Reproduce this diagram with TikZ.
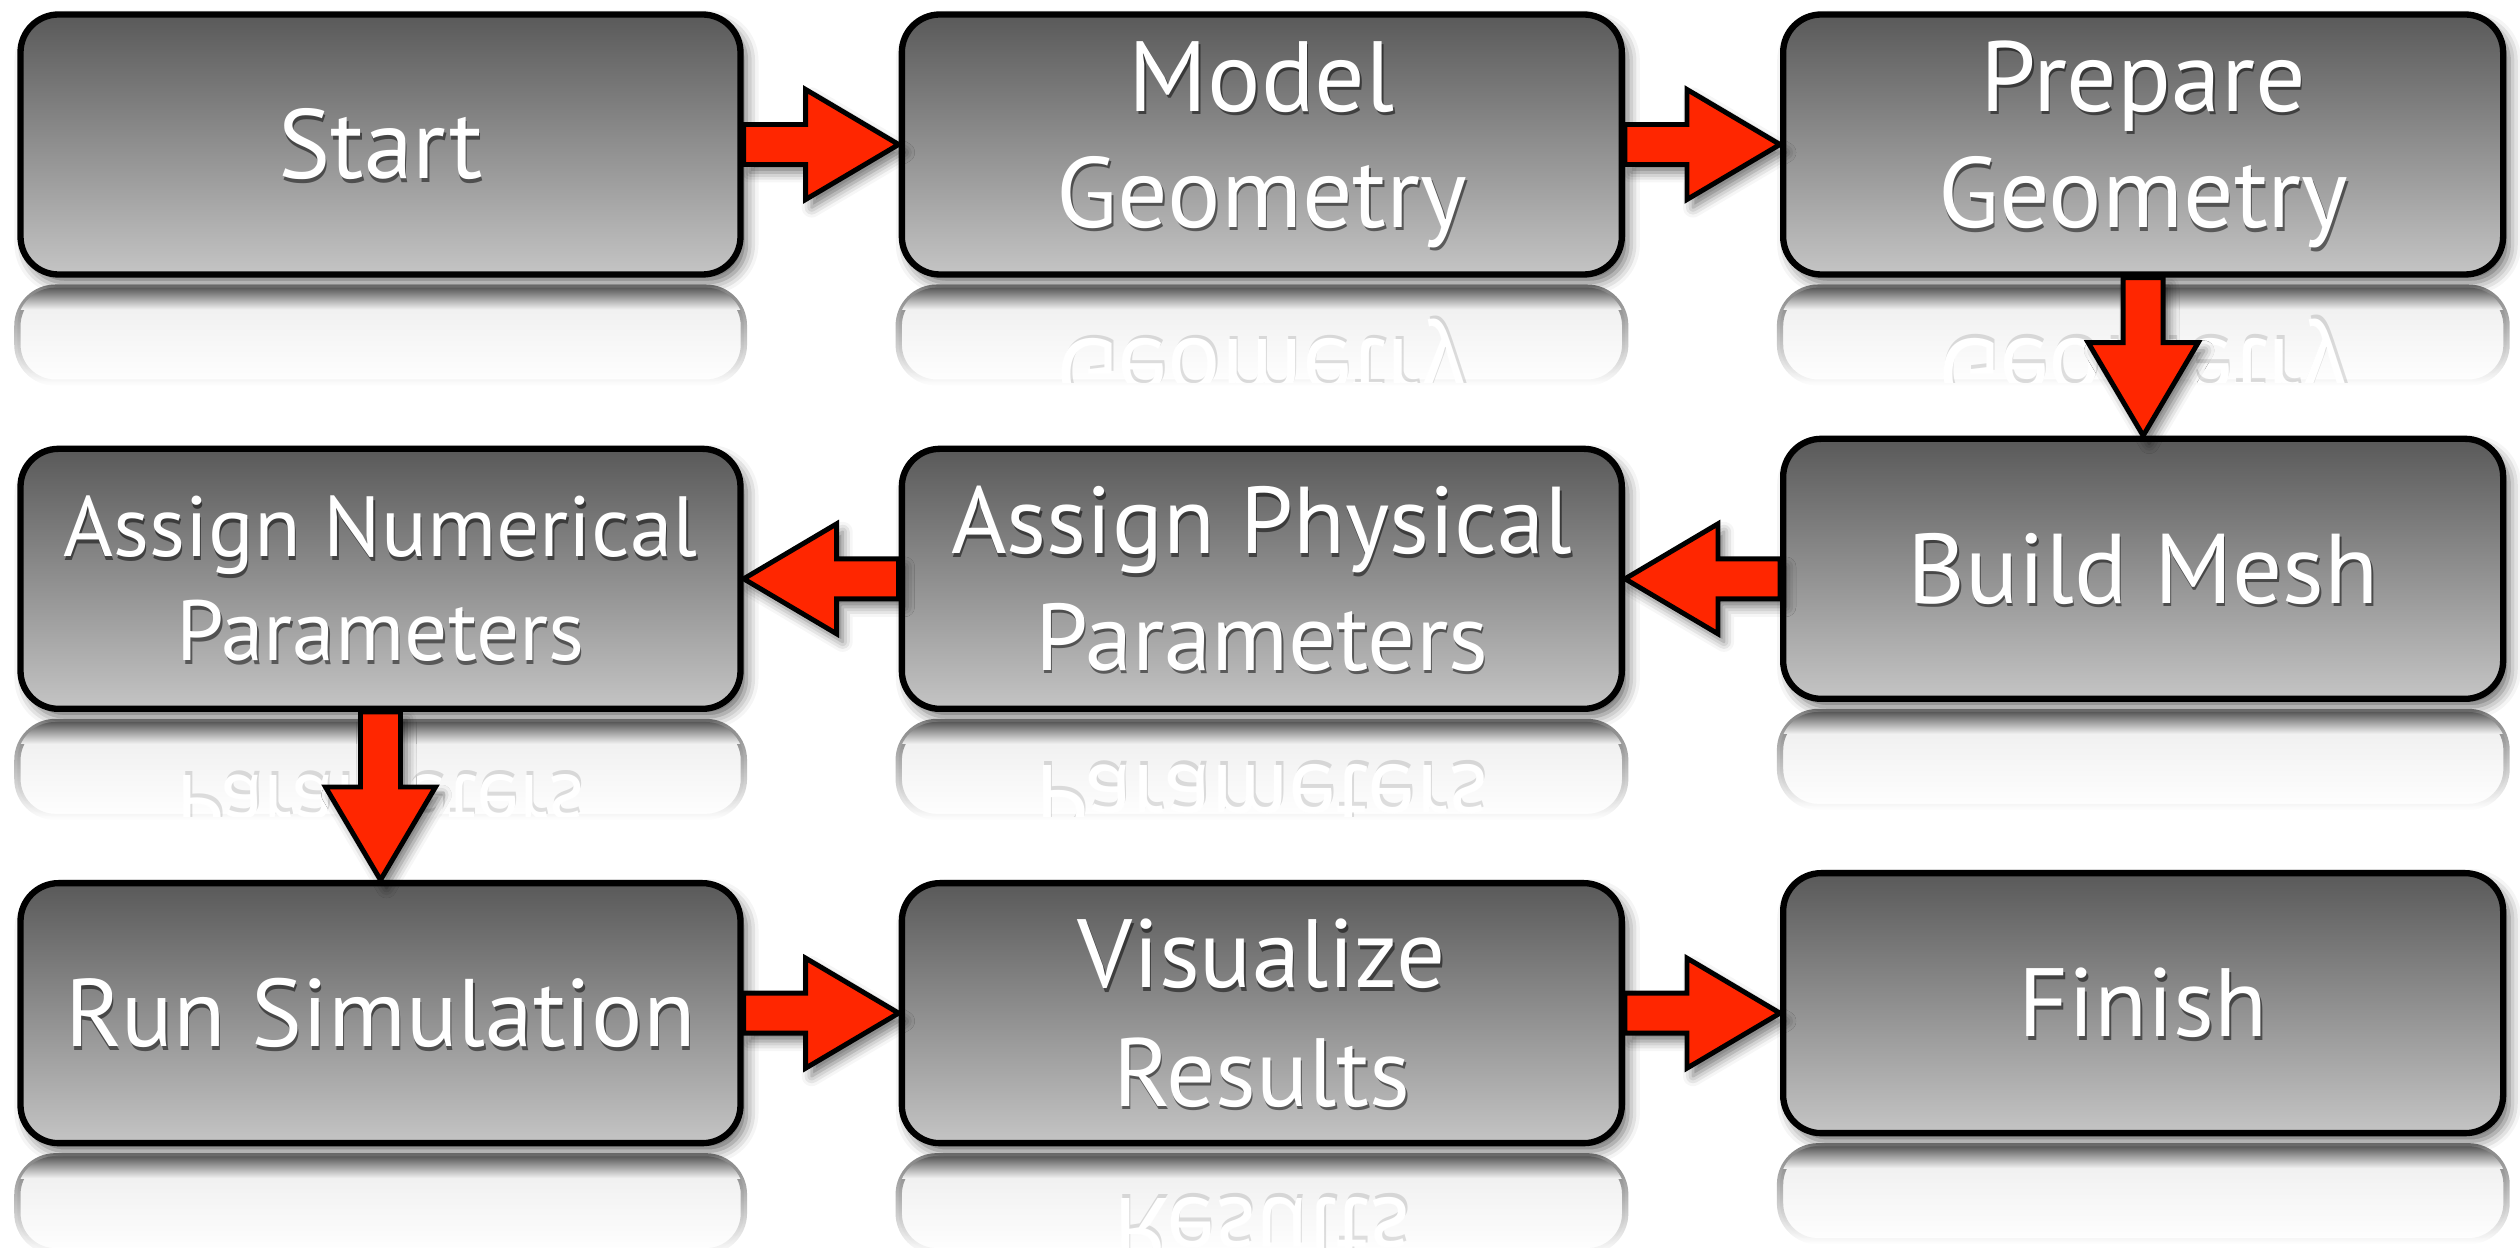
\documentclass[tikz,border=0pt]{standalone}
\usepackage{fontspec}
\setmainfont{PT Sans}
\usetikzlibrary{positioning, calc, fadings, shadows.blur}

\definecolor{flowred}{RGB}{255,38,0}
\tikzfading[name=reflfade, top color=transparent!50, bottom color=transparent!100]

\tikzset{
  flowbox/.style={draw=black, line width=1.8pt, rounded corners=0.38cm,
    top color=black!65, bottom color=black!23,
    minimum width=7.2cm, minimum height=2.6cm,
    blur shadow={shadow xshift=0.06cm, shadow yshift=-0.08cm,
      shadow blur radius=0.12cm, shadow opacity=60}},
  flowtext/.style={text=white, align=center},
  shadowtext/.style={text=black, text opacity=0.5, align=center},
  refl/.style={draw=black, line width=1.8pt, fill=black!15,
    rounded corners=0.38cm, path fading=reflfade},
  reflband/.style={top color=black!65, bottom color=black!5},
  flowarrow/.style={draw=black, line width=1.4pt, fill=flowred,
    blur shadow={shadow xshift=0.06cm, shadow yshift=-0.08cm,
      shadow blur radius=0.1cm, shadow opacity=55},
    to path={let \p1=(\tikztostart), \p2=(\tikztotarget),
      \n1={atan2(\y2-\y1,\x2-\x1)} in
      ($(\p1)+(\n1+90:0.2cm)$)
      -- ($(\p2)+(\n1+180:0.93cm)+(\n1+90:0.2cm)$)
      -- ($(\p2)+(\n1+180:0.93cm)+(\n1+90:0.55cm)$)
      -- (\p2)
      -- ($(\p2)+(\n1+180:0.93cm)+(\n1-90:0.55cm)$)
      -- ($(\p2)+(\n1+180:0.93cm)+(\n1-90:0.2cm)$)
      -- ($(\p1)+(\n1-90:0.2cm)$) -- cycle}}
}

% box, its reflection and its text
\newcommand{\flowbox}[5]{%
  \node[flowbox, #1] (#2) {};
  \path[refl] ([yshift=-0.1cm]#2.south west) rectangle ([yshift=-1.05cm]#2.south east);
  \begin{scope}
    \clip[rounded corners=0.38cm] ([yshift=-0.1cm]#2.south west) rectangle ([yshift=-1.05cm]#2.south east);
    \shade[reflband] ([yshift=-0.1cm]#2.south west) rectangle ([yshift=-0.32cm]#2.south east);
  \end{scope}
  \node[shadowtext, font=\fontsize{#3}{#4}\selectfont] (#2-s)
    at ([xshift=0.015cm, yshift=-0.035cm]#2.center) {#5};
  \node[flowtext, font=\fontsize{#3}{#4}\selectfont] (#2-t) at (#2.center) {#5};
}
% mirrored text in the reflection
\newcommand{\mirrortext}[4]{%
  \begin{scope}
    \clip ([yshift=-0.1cm]#1.south west) rectangle ([yshift=-1.05cm]#1.south east);
    \node[shadowtext, text opacity=0.12, yscale=-1, font=\fontsize{#2}{#3}\selectfont] (#1-ms)
      at ([xshift=0.015cm, yshift=-2.745cm]#1.center) {#4};
    \node[flowtext, yscale=-1, font=\fontsize{#2}{#3}\selectfont] (#1-m)
      at ([yshift=-2.78cm]#1.center) {#4};
  \end{scope}
}

\begin{document}
\begin{tikzpicture}
\useasboundingbox (0,0) rectangle (25.2,-12.48);

\flowbox{at={(3.805,-1.445)}}{start}{28}{32}{Start}
\flowbox{right=1.55cm of start}{model}{28.4}{33}{Model\\Geometry}
\flowbox{right=1.55cm of model}{prep}{28.4}{33.2}{Prepare\\Geometry}
\flowbox{below=1.58cm of prep}{bmesh}{28.2}{34}{Build Mesh}
\flowbox{left=1.55cm of bmesh, yshift=-0.1cm}{aphys}{27}{33.2}{Assign Physical\\Parameters}
\flowbox{left=1.55cm of aphys}{anum}{24.3}{29.5}{Assign Numerical\\Parameters}
\flowbox{below=1.68cm of anum}{runsim}{27.3}{34}{Run Simulation}
\flowbox{right=1.55cm of runsim}{visres}{27.6}{33.8}{Visualize\\Results}
\flowbox{right=1.55cm of visres, yshift=0.1cm}{finish}{27.6}{34}{Finish}

\mirrortext{model}{28.4}{33}{Model\\Geometry}
\mirrortext{prep}{28.4}{33.2}{Prepare\\Geometry}
\mirrortext{aphys}{27}{33.2}{Assign Physical\\Parameters}
\mirrortext{anum}{24.3}{29.5}{Assign Numerical\\Parameters}
\mirrortext{visres}{27.6}{33.8}{Visualize\\Results}

\draw[flowarrow] (start.east) to (model.west);
\draw[flowarrow] (model.east) to (prep.west);
\draw[flowarrow] (prep.south) to (bmesh.north);
\draw[flowarrow] (bmesh.west |- aphys.east) to (aphys.east);
\draw[flowarrow] (aphys.west) to (anum.east);
\draw[flowarrow] (anum.south) to (runsim.north);
\draw[flowarrow] (runsim.east) to (visres.west);
\draw[flowarrow] (visres.east) to (finish.west |- visres.east);
\end{tikzpicture}
\end{document}
